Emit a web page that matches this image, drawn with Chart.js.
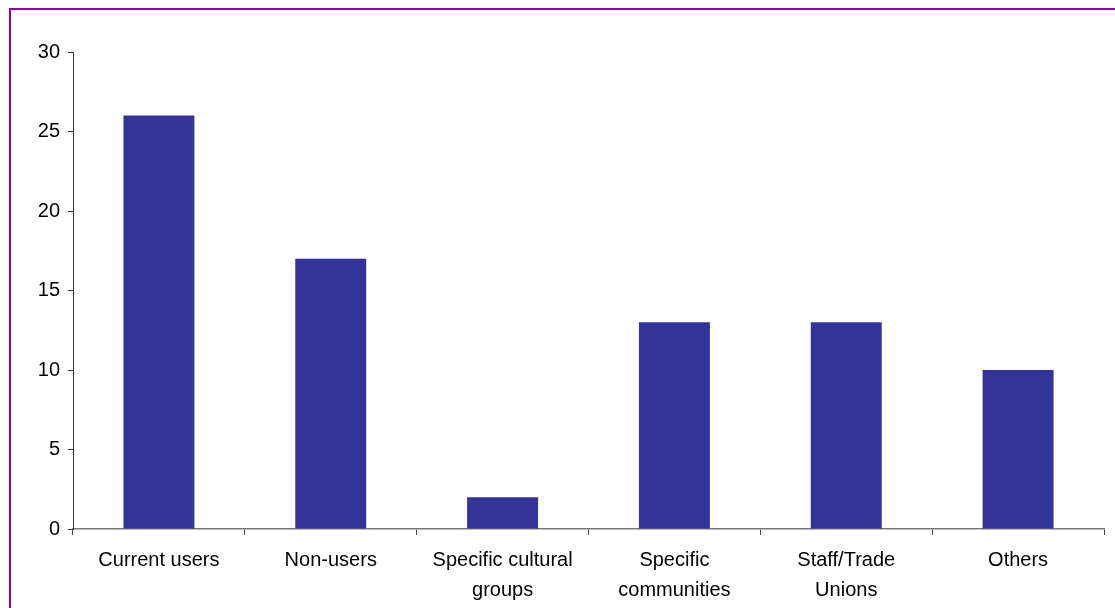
<!DOCTYPE html>
<html>
<head>
<meta charset="utf-8">
<script src="https://cdn.jsdelivr.net/npm/chart.js@4/dist/chart.umd.min.js"></script>
<style>
  html, body { margin: 0; padding: 0; background: #fff; }
  #wrap { position: relative; width: 1115px; height: 608px; }
  #frame { position: absolute; left: 9px; top: 8px; right: -10px; bottom: -10px;
           border-left: 2px solid #990099; border-top: 2px solid #990099; pointer-events: none; }
  canvas { position: absolute; left: 0; top: 0; }
</style>
</head>
<body>
<div id="wrap">
  <canvas id="c" width="1115" height="608"></canvas>
  <div id="frame"></div>
</div>
<script>
const categories = [["Current users"], ["Non-users"], ["Specific cultural", "groups"], ["Specific", "communities"], ["Staff/Trade", "Unions"], ["Others"]];
const values = [26, 17, 2, 13, 13, 10];
const yTicks = [0, 5, 10, 15, 20, 25, 30];

const PAD_L = 10, PAD_T = 52, PAD_R = 11, PAD_B = 0;
const AREA_L = 73, AREA_B = 529, H = 608;

new Chart(document.getElementById('c'), {
  type: 'bar',
  data: {
    labels: categories,
    datasets: [{
      data: values,
      backgroundColor: '#333399',
      borderWidth: 0,
      categoryPercentage: 1.0,
      barPercentage: 0.413
    }]
  },
  options: {
    responsive: false,
    animation: false,
    events: [],
    layout: { padding: { left: PAD_L, top: PAD_T, right: PAD_R, bottom: PAD_B } },
    plugins: { legend: { display: false }, tooltip: { enabled: false } },
    scales: {
      x: {
        grid: { display: true, offset: true, drawOnChartArea: false, drawTicks: true,
                tickLength: 6, color: '#444', lineWidth: 1 },
        border: { display: true, color: '#777', width: 1.5 },
        ticks: { color: '#000', font: { family: 'Liberation Sans, Arial', size: 20, lineHeight: 1.5 },
                 maxRotation: 0, autoSkip: false, padding: 10 },
        afterFit: (s) => { s.height = H - AREA_B - PAD_B; }
      },
      y: {
        min: 0, max: 30,
        afterBuildTicks: (s) => { s.ticks = yTicks.map(v => ({ value: v })); },
        grid: { display: true, drawOnChartArea: false, drawTicks: true, tickLength: 5,
                color: '#333', lineWidth: 1 },
        border: { display: true, color: '#333', width: 1 },
        ticks: { color: '#000', font: { family: 'Liberation Sans, Arial', size: 20 }, padding: 8 },
        afterFit: (s) => { s.width = AREA_L - PAD_L; }
      }
    }
  }
});
</script>
</body>
</html>
